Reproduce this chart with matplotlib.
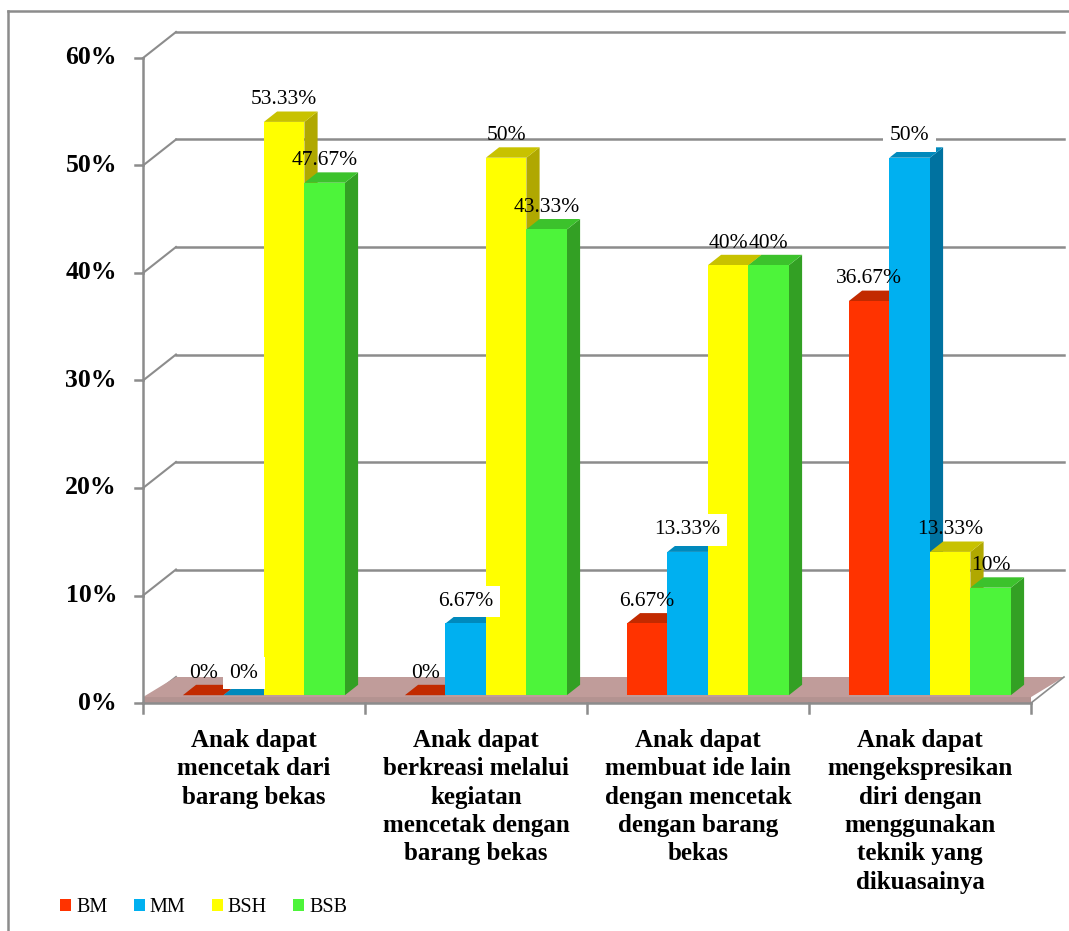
import matplotlib
matplotlib.use("Agg")
import matplotlib.pyplot as plt
from matplotlib.patches import Polygon, Patch
from matplotlib.lines import Line2D

plt.rcParams['font.family'] = ['Liberation Serif', 'DejaVu Serif']

# data
categories = [
    "Anak dapat\nmencetak dari\nbarang bekas",
    "Anak dapat\nberkreasi melalui\nkegiatan\nmencetak dengan\nbarang bekas",
    "Anak dapat\nmembuat ide lain\ndengan mencetak\ndengan barang\nbekas",
    "Anak dapat\nmengekspresikan\ndiri dengan\nmenggunakan\nteknik yang\ndikuasainya",
]
series = ["BM", "MM", "BSH", "BSB"]
bm = [0, 0, 6.67, 36.67]
mm = [0, 6.67, 13.33, 50]
bsh = [53.33, 50, 40, 13.33]
bsb = [47.67, 43.33, 40, 10]
values = [bm, mm, bsh, bsb]
labels = [["0%", "0%", "6.67%", "36.67%"],
          ["0%", "6.67%", "13.33%", "50%"],
          ["53.33%", "50%", "40%", "13.33%"],
          ["47.67%", "43.33%", "40%", "10%"]]
yticks = [0, 10, 20, 30, 40, 50, 60]

# colours: front, top, side
front_c = ["#FF3300", "#00B0F0", "#FFFF00", "#4DF43A"]
top_c = ["#C22A00", "#0089BC", "#C8C200", "#3CC22C"]
side_c = ["#B02400", "#0072A0", "#B0A800", "#33A024"]
grid_c = "#8C8C8C"

W, H = 1069, 931
fig = plt.figure(figsize=(W / 100, H / 100), dpi=100)
ax = fig.add_axes([0, 0, 1, 1])
ax.axis("off")

# axis scale: one category = 222 px, 1 % = 10.75 px, origin at (143, 703)
ax.set_xlim(-143 / 222, (W - 143) / 222)
ax.set_ylim((703 - H) / 10.75, 703 / 10.75)

DX = 33 / 222      # wall depth in x units
DY = 26 / 10.75    # wall depth in y units
n = len(categories)

# back wall grid lines and side wall diagonals
for t in yticks:
    if t > 0:
        ax.plot([DX, n + DX], [t + DY, t + DY], color=grid_c, lw=1.8, zorder=1)
    ax.plot([0, DX], [t, t + DY], color=grid_c, lw=1.5, zorder=1)

# floor slab
FT = 0.55
ax.add_patch(Polygon([(0, 0), (n, 0), (n, FT), (0, FT)],
                     closed=True, fc="#B39391", ec="none", zorder=2))
ax.add_patch(Polygon([(0, FT), (n, FT), (n + DX, DY), (DX, DY)],
                     closed=True, fc="#C09C9A", ec="none", zorder=2))
ax.plot([n, n + DX], [0, DY], color=grid_c, lw=1.2, zorder=2)

# front axes
ax.plot([0, 0], [0, 60], color=grid_c, lw=1.8, zorder=6)
ax.plot([0, n], [0, 0], color=grid_c, lw=1.8, zorder=6)
for t in yticks:
    ax.plot([-8 / 222, 0], [t, t], color=grid_c, lw=1.8, zorder=6)
    ax.text(-26 / 222, t, f"{t}%", ha="right", va="center",
            fontsize=18.5, fontweight="bold")
for i in range(n + 1):
    ax.plot([i, i], [0, -10 / 10.75], color=grid_c, lw=1.8, zorder=6)

# 3d bars
f0, f1 = 0.3, 0.7
bw = 40.5 / 222
ddx, ddy = (f1 - f0) * DX, (f1 - f0) * DY
base = f0 * DY
for c in range(n):
    x0 = c + 0.5 - 2 * bw + f0 * DX
    for s in range(len(series)):
        v = values[s][c]
        x = x0 + s * bw
        z = 3 + c * 0.1 + s * 0.01
        ax.add_patch(Polygon([(x + bw, base), (x + bw + ddx, base + ddy),
                              (x + bw + ddx, base + v + ddy), (x + bw, base + v)],
                             closed=True, fc=side_c[s], ec="none", zorder=z))
        ax.add_patch(Polygon([(x, base + v), (x + bw, base + v),
                              (x + bw + ddx, base + v + ddy), (x + ddx, base + v + ddy)],
                             closed=True, fc=top_c[s], ec="none", zorder=z))
        ax.add_patch(Polygon([(x, base), (x + bw, base), (x + bw, base + v), (x, base + v)],
                             closed=True, fc=front_c[s], ec="none", zorder=z))

# value labels
for c in range(n):
    x0 = c + 0.5 - 2 * bw + f0 * DX
    for s in range(len(series)):
        v = values[s][c]
        kw = {}
        if series[s] == "MM":
            kw["bbox"] = dict(boxstyle="square,pad=0.3", fc="white", ec="none")
        ax.text(x0 + s * bw + bw / 2, base + v + 2.05, labels[s][c],
                ha="center", va="center", fontsize=15.5, zorder=5 + s * 0.1, **kw)

# category labels
for c, name in enumerate(categories):
    ax.text(c + 0.5, -2.4, name, ha="center", va="top", fontsize=18,
            fontweight="bold", linespacing=1.3)

# legend
handles = [Patch(fc=front_c[s], ec="none") for s in range(len(series))]
fig.legend(handles, series, loc="center left",
           bbox_to_anchor=(60 / W, 1 - 908 / H), ncol=4, frameon=False,
           fontsize=14.5, handlelength=0.55, handleheight=0.55,
           handletextpad=0.25, columnspacing=1.3, borderpad=0, borderaxespad=0)

# outer border
fig.add_artist(Line2D([8 / W, 8 / W], [0, 1 - 11 / H], color="#8C8C8C", lw=1.8))
fig.add_artist(Line2D([8 / W, 1], [1 - 11 / H, 1 - 11 / H], color="#8C8C8C", lw=1.8))

fig.savefig("out.png", dpi=100)
